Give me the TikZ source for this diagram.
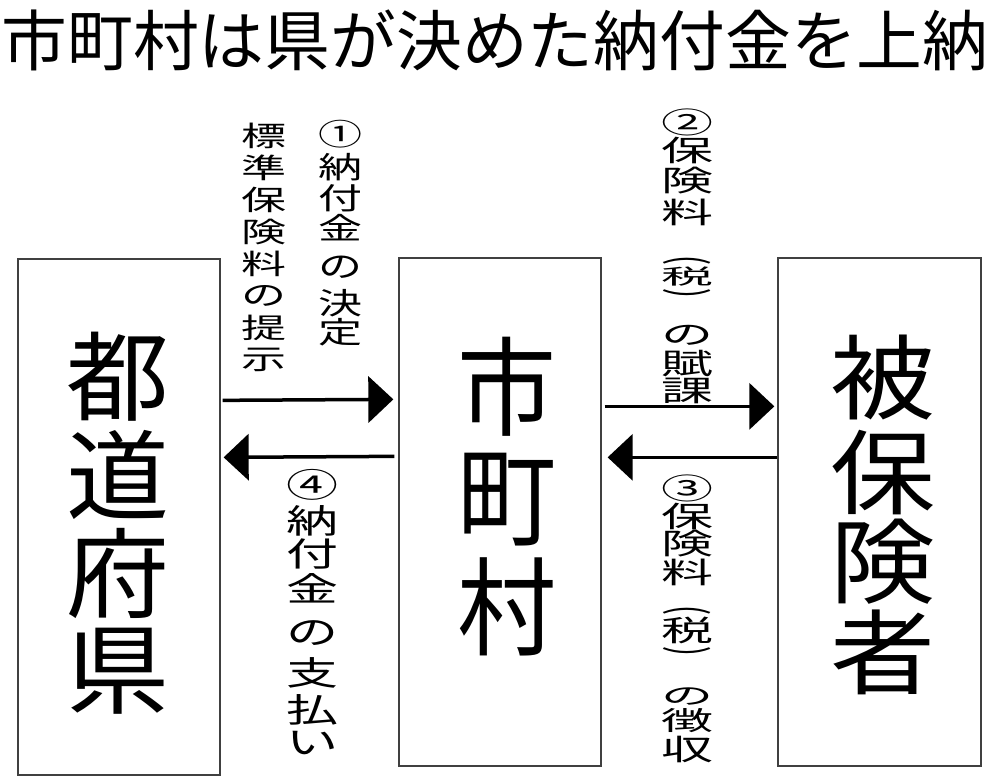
\documentclass[tikz,border=0pt]{standalone}
\usepackage{fontspec}
\newfontfamily\cjk{Noto Sans CJK JP}
\usetikzlibrary{arrows.meta}
\newcommand\vstack[5]{%
  \foreach \ch/\yy [count=\i] in {#5}
    \node[chr, font=\cjk\fontsize{#3}{#3}\selectfont] (#1\i) at (#2,\yy) {\scalebox{1}[#4]{\ch}};}
\newcommand\sq[2]{\scalebox{1}[#1]{#2}}
\newcommand\parop{\scalebox{0.9}[1]{\rotatebox{-90}{(}}}
\newcommand\parcl{\scalebox{0.9}[1]{\rotatebox{-90}{)}}}
\begin{document}
\begin{tikzpicture}[x=1pt,y=-1pt,
  chr/.style={inner sep=0pt, outer sep=0pt},
  boxnode/.style={draw=black!75, line width=1.3pt, fill=none, inner sep=0pt},
  arr/.style={line width=3.5pt, -{Triangle[length=25pt,width=46pt]}}]
\fill[white] (0,0) rectangle (989,778);
\useasboundingbox (0,0) rectangle (989,778);
% title
\node[chr, font=\cjk\fontsize{65.8}{65.8}\selectfont] (title) at (495,40) {市町村は県が決めた納付金を上納};
% boxes
\node[boxnode, minimum width=202pt, minimum height=516pt] (b1) at (119,517) {};
\node[boxnode, minimum width=202pt, minimum height=508pt] (b2) at (500,512) {};
\node[boxnode, minimum width=203pt, minimum height=508pt] (b3) at (879.5,512) {};
% box texts
\vstack{t1-}{118}{103}{0.95}{都/377,道/475,府/573,県/671}
\vstack{t2-}{507}{99}{1.08}{市/387,町/500,村/607}
\vstack{t3-}{883}{105}{0.88}{被/378,保/473,険/562,者/652}
% labels
\vstack{la-}{264}{45}{0.62}{標/136,準/168,保/200,険/232,料/264,の/296,提/328,示/360}
\vstack{lb-}{340}{44}{0.68}{①/134,納/167,付/198,金/228,の/267,決/303,定/332}
\vstack{lc-}{312}{52}{0.64}{④/485,納/521,付/554,金/588,の/633,支/673,払/710,い/743}
\vstack{ld-}{687}{52}{0.56}{②/122,保/150,険/181,料/212,\parop/260,{\sq{0.72}{税}}/277,\parcl/293,{\sq{0.92}{の}}/335,賦/364,課/391}
\vstack{le-}{687}{52}{0.56}{③/488,保/516,険/544,料/572,\parop/610,税/630,\parcl/651,{\sq{0.8}{の}}/696,{\sq{0.9}{徴}}/721,収/749}
% arrows
\draw[arr] ([shift={(2,142)}]b1.north east) -- ([shift={(-5,142)}]b2.north west);
\draw[arr] ([shift={(-4,199)}]b2.north west) -- ([shift={(3,199)}]b1.north east);
\draw[arr] ([shift={(3,149)}]b2.north east) -- ([shift={(-3,149)}]b3.north west);
\draw[arr] ([shift={(0,200)}]b3.north west) -- ([shift={(6,200)}]b2.north east);
\end{tikzpicture}
\end{document}
